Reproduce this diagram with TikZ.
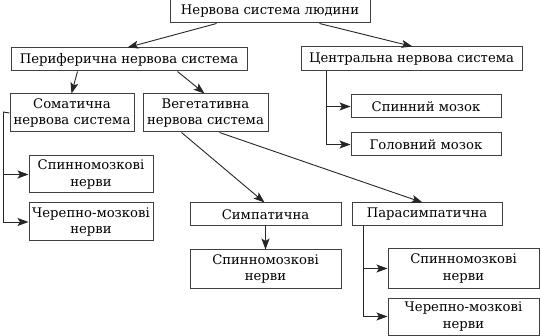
\documentclass[tikz,border=0pt]{standalone}
\usepackage{fontspec}
\setmainfont{DejaVu Serif}
\usetikzlibrary{arrows.meta,calc}
\begin{document}
\begin{tikzpicture}[x=1pt,y=-1pt,
  box/.style={draw=black!75,line width=1pt,fill=white,inner sep=0pt,align=center,
    font=\fontsize{13.2}{16.5}\selectfont,text=black},
  arr/.style={draw=black!85,line width=0.9pt,-{Stealth[length=11pt,width=8pt,inset=2.5pt]}},
  ln/.style={draw=black!85,line width=0.9pt}]
\useasboundingbox (0,0) rectangle (540,336);
\fill[white] (0,0) rectangle (540,336);
% nodes
\node[box,minimum width=200pt,minimum height=23pt] (top) at (270,11.5) {Нервова система людини};
\node[box,minimum width=236pt,minimum height=23pt] (peri) at (129,59.5) {Периферична нервова система};
\node[box,minimum width=221pt,minimum height=24pt] (cent) at (411.5,59) {Центральна нервова система};
\node[box,minimum width=124pt,minimum height=38pt] (soma) at (72,113) {Соматична\\нервова система};
\node[box,minimum width=125pt,minimum height=38pt] (veg) at (205.5,113) {Вегетативна\\нервова система};
\node[box,minimum width=124pt,minimum height=37pt] (spa) at (91,174.5) {Спинномозкові\\нерви};
\node[box,minimum width=124pt,minimum height=38pt] (cha) at (91,222) {Черепно-мозкові\\нерви};
\node[box,minimum width=150pt,minimum height=23pt] (spm) at (426,106.5) {Спинний мозок};
\node[box,minimum width=150pt,minimum height=23pt] (gom) at (426,144.5) {Головний мозок};
\node[box,minimum width=151pt,minimum height=23pt] (sym) at (265.5,214.5) {Симпатична};
\node[box,minimum width=150pt,minimum height=23pt] (par) at (427,214.5) {Парасимпатична};
\node[box,minimum width=151pt,minimum height=38pt] (spb) at (265.5,269) {Спинномозкові\\нерви};
\node[box,minimum width=151pt,minimum height=39pt] (spc) at (463.5,268.5) {Спинномозкові\\нерви};
\node[box,minimum width=151pt,minimum height=37pt] (chc) at (463.5,316.5) {Черепно-мозкові\\нерви};
% bus coordinates
\coordinate (busa) at (3,112);
\coordinate (busb) at (326,71);
\coordinate (busc) at (363,226);
% connectors
\draw[arr] ($(top.south west)+(47,0)$) -- ($(peri.north west)+(117,0)$);
\draw[arr] ($(top.south west)+(150,0)$) -- ($(cent.north west)+(112,0)$);
\draw[arr] ($(peri.south west)+(67,0)$) -- ($(soma.north west)+(62,0)$);
\draw[arr] ($(peri.south west)+(167,0)$) -- ($(veg.north west)+(62,0)$);
\draw[ln] (soma.west) -- (busa);
\draw[arr] (busa) |- (cha.west);
\draw[arr] (busa |- spa.west) -- (spa.west);
\draw[arr] (busb) |- (gom.west);
\draw[arr] (busb |- spm.west) -- (spm.west);
\draw[arr] ($(veg.south west)+(39,0)$) -- ($(sym.north west)+(75,0)$);
\draw[arr] ($(veg.south west)+(77,0)$) -- ($(par.north west)+(71,0)$);
\draw[arr] (sym.south) -- (spb.north);
\draw[arr] (busc) |- (chc.west);
\draw[arr] (busc |- spc.west) -- (spc.west);
\end{tikzpicture}
\end{document}
